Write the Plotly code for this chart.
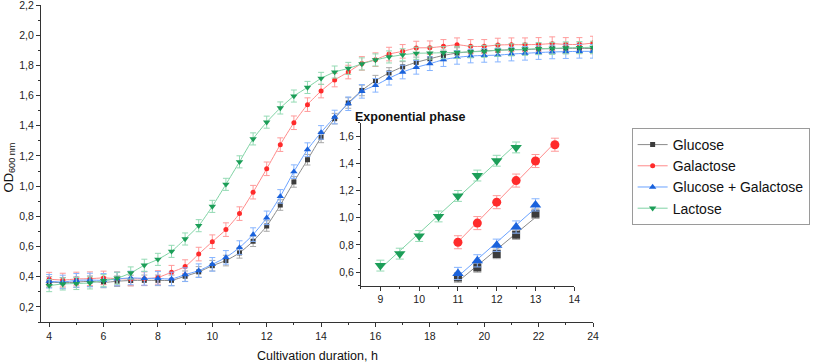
import numpy as np
import plotly.graph_objects as go

# ---------------- data ----------------
time_h = [4, 4.5, 5, 5.5, 6, 6.5, 7, 7.5, 8, 8.5, 9, 9.5, 10, 10.5, 11, 11.5, 12, 12.5,
          13, 13.5, 14, 14.5, 15, 15.5, 16, 16.5, 17, 17.5, 18, 18.5, 19, 19.5, 20, 20.5,
          21, 21.5, 22, 22.5, 23, 23.5, 24]

glucose = [0.365, 0.360, 0.364, 0.370, 0.362, 0.370, 0.375, 0.376, 0.376, 0.376, 0.403, 0.432,
           0.473, 0.507, 0.558, 0.635, 0.736, 0.875, 1.028, 1.175, 1.323, 1.447, 1.551, 1.634,
           1.699, 1.750, 1.790, 1.820, 1.844, 1.866, 1.882, 1.890, 1.896, 1.900, 1.904, 1.904,
           1.909, 1.911, 1.913, 1.913, 1.912]
galactose = [0.384, 0.378, 0.385, 0.387, 0.392, 0.387, 0.385, 0.387, 0.395, 0.430, 0.467, 0.550,
             0.632, 0.712, 0.818, 0.960, 1.115, 1.275, 1.420, 1.540, 1.630, 1.703, 1.756, 1.813,
             1.838, 1.875, 1.893, 1.915, 1.917, 1.926, 1.937, 1.926, 1.926, 1.935, 1.937, 1.937,
             1.939, 1.944, 1.939, 1.939, 1.948]
glc_gal = [0.370, 0.365, 0.376, 0.378, 0.376, 0.385, 0.392, 0.389, 0.389, 0.385, 0.414, 0.440,
           0.482, 0.528, 0.593, 0.679, 0.790, 0.932, 1.096, 1.242, 1.356, 1.458, 1.546, 1.628,
           1.668, 1.715, 1.756, 1.787, 1.811, 1.838, 1.853, 1.862, 1.866, 1.868, 1.875, 1.880,
           1.885, 1.889, 1.891, 1.893, 1.893]
lactose = [0.341, 0.352, 0.355, 0.359, 0.374, 0.390, 0.425, 0.476, 0.515, 0.568, 0.650, 0.738,
           0.866, 1.012, 1.161, 1.313, 1.424, 1.518, 1.597, 1.654, 1.714, 1.756, 1.780, 1.810,
           1.836, 1.856, 1.870, 1.880, 1.882, 1.884, 1.886, 1.890, 1.893, 1.900, 1.903, 1.907,
           1.911, 1.913, 1.916, 1.918, 1.920]

err_glucose = 0.035
err_galactose = 0.045
err_glc_gal = 0.045
err_lactose = 0.040

# inset (exponential phase)
inset_t_glucose = [11, 11.5, 12, 12.5, 13]
inset_glucose = [0.560, 0.634, 0.734, 0.876, 1.030]
inset_t_galactose = [11, 11.5, 12, 12.5, 13, 13.5]
inset_galactose = [0.820, 0.961, 1.115, 1.274, 1.418, 1.538]
inset_t_glc_gal = [11, 11.5, 12, 12.5, 13]
inset_glc_gal = [0.590, 0.683, 0.798, 0.932, 1.095]
inset_t_lactose = [9, 9.5, 10, 10.5, 11, 11.5, 12, 12.5]
inset_lactose = [0.648, 0.736, 0.866, 1.010, 1.161, 1.311, 1.420, 1.518]

inset_err_glucose = 0.035
inset_err_galactose = 0.048
inset_err_glc_gal = 0.045
inset_err_lactose = 0.040

names = ["Glucose", "Galactose", "Glucose + Galactose", "Lactose"]

# ---------------- styles ----------------
line_colors = ["#8a8a8a", "#ff8a8a", "#6aa2ff", "#7fd3a4"]
marker_colors = ["#3c3c3c", "#ff2b2b", "#1a62dc", "#1c9e58"]
err_colors = ["#a8a8a8", "#ff9a9a", "#86b4ff", "#94dab4"]
symbols = ["square", "circle", "triangle-up", "triangle-down"]
main_sizes = [5, 5, 6.5, 6.5]
inset_sizes = [8, 9, 10, 10]

FONT = "Liberation Sans, Arial, sans-serif"

fig = go.Figure()

main_series = [glucose, galactose, glc_gal, lactose]
main_errs = [err_glucose, err_galactose, err_glc_gal, err_lactose]
for i in range(4):
    fig.add_trace(go.Scatter(
        x=time_h, y=main_series[i], name=names[i], mode="lines+markers",
        line=dict(color=line_colors[i], width=1, shape="spline", smoothing=0.6),
        marker=dict(symbol=symbols[i], size=main_sizes[i], color=marker_colors[i]),
        error_y=dict(type="constant", value=main_errs[i], color=err_colors[i],
                     thickness=1, width=3),
        xaxis="x", yaxis="y",
    ))

inset_t = [inset_t_glucose, inset_t_galactose, inset_t_glc_gal, inset_t_lactose]
inset_v = [inset_glucose, inset_galactose, inset_glc_gal, inset_lactose]
inset_e = [inset_err_glucose, inset_err_galactose, inset_err_glc_gal, inset_err_lactose]
for i in range(4):
    t = np.array(inset_t[i], dtype=float)
    v = np.array(inset_v[i], dtype=float)
    k, b = np.polyfit(t, v, 1)
    xs = [t[0], t[-1]]
    fig.add_trace(go.Scatter(
        x=xs, y=[k * xs[0] + b, k * xs[1] + b], mode="lines",
        line=dict(color=line_colors[i], width=1), showlegend=False,
        hoverinfo="skip", xaxis="x2", yaxis="y2",
    ))
    fig.add_trace(go.Scatter(
        x=inset_t[i], y=inset_v[i], mode="markers", showlegend=False,
        marker=dict(symbol=symbols[i], size=inset_sizes[i], color=marker_colors[i]),
        error_y=dict(type="constant", value=inset_e[i], color=err_colors[i],
                     thickness=1, width=4),
        xaxis="x2", yaxis="y2",
    ))

axis_common = dict(showline=True, linecolor="#333333", linewidth=1, showgrid=False,
                   zeroline=False, ticks="outside", ticklen=4, tickcolor="#333333",
                   automargin=False, ticklabeloverflow="allow",
                   tickfont=dict(family=FONT, size=10.5, color="#222222"))

fig.update_layout(
    width=813, height=363,
    margin=dict(l=41, r=220, t=5, b=41, autoexpand=False),
    paper_bgcolor="white", plot_bgcolor="rgba(0,0,0,0)",
    separators=", ",
    font=dict(family=FONT, color="#222222"),
    xaxis=dict(domain=[0, 1], range=[3.7, 24.0001], tick0=4, dtick=2, anchor="y",
               minor=dict(ticks="outside", ticklen=2, dtick=1, tick0=4, tickcolor="#333333"),
               **axis_common),
    yaxis=dict(domain=[0, 1], range=[0.1, 2.2001], tick0=0, dtick=0.2, tickformat=".1f",
               anchor="x",
               minor=dict(ticks="outside", ticklen=2, dtick=0.1, tick0=0, tickcolor="#333333"),
               **axis_common),
    xaxis2=dict(domain=[0.5797, 0.9661], range=[8.5, 14.0001], tick0=9, dtick=1, anchor="y2",
                minor=dict(ticks="outside", ticklen=2, dtick=0.5, tick0=9, tickcolor="#333333"),
                **axis_common),
    yaxis2=dict(domain=[0.1145, 0.6287], range=[0.5, 1.7001], tick0=0, dtick=0.2,
                tickformat=".1f", anchor="x2",
                minor=dict(ticks="outside", ticklen=2, dtick=0.1, tick0=0, tickcolor="#333333"),
                **axis_common),
    legend=dict(x=1.07, y=0.612, xanchor="left", yanchor="top",
                bordercolor="#9a9a9a", borderwidth=1, bgcolor="white",
                font=dict(family=FONT, size=14, color="#111111"),
                itemwidth=30, tracegroupgap=0),
    annotations=[
        dict(text="<b>Exponential phase</b>", x=0.772, y=0.647,
             xref="paper", yref="paper", showarrow=False,
             font=dict(family=FONT, size=12.5, color="#111111")),
        dict(text="Cultivation duration, h", x=0.5, y=-0.106, xref="paper", yref="paper",
             xanchor="center", yanchor="middle", showarrow=False,
             font=dict(family=FONT, size=12.5, color="#111111")),
        dict(text="OD<sub>600 nm</sub>", x=-0.057, y=0.486, xref="paper", yref="paper",
             xanchor="center", yanchor="middle", textangle=-90, showarrow=False,
             font=dict(family=FONT, size=13, color="#111111")),
    ],
)

fig.write_html("out.html", config={"displayModeBar": False},
               post_script="document.body.style.margin='0px';")
